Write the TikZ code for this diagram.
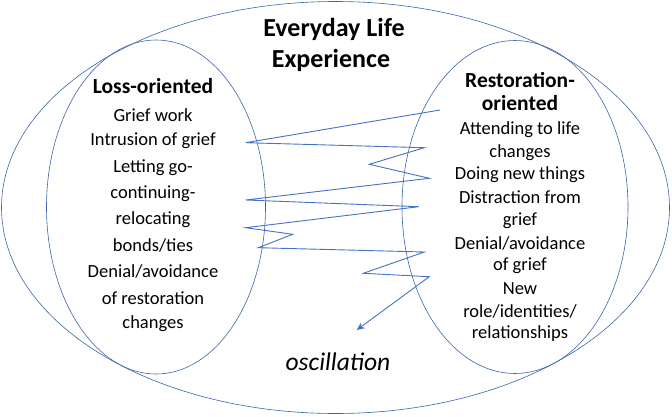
\documentclass[tikz,border=0pt]{standalone}
\usepackage{fontspec}
\setmainfont{Carlito}
\usetikzlibrary{shapes.geometric,arrows.meta}
\definecolor{ablue}{HTML}{4472C4}
\definecolor{eblue}{HTML}{3B64AD}
\begin{document}
\begin{tikzpicture}[x=1pt,y=-1pt,
  oval/.style={draw=eblue,line width=0.6pt,ellipse,inner sep=0pt},
  head/.style={font=\fontsize{21.5}{24}\selectfont\bfseries,inner sep=0pt,anchor=center},
  item/.style={font=\fontsize{18.5}{22}\selectfont,inner sep=0pt,anchor=center},
  title/.style={font=\fontsize{26}{30}\selectfont\bfseries,inner sep=0pt},
  osc/.style={draw=ablue,line width=0.9pt}]
\useasboundingbox (0,0) rectangle (672,416);
\node[oval,minimum width=668pt,minimum height=412pt] (outer) at (335.5,207.5) {};
\node[oval,minimum width=219pt,minimum height=334pt] (loss) at (156,207) {};
\node[oval,minimum width=226pt,minimum height=333pt] (rest) at (515,207) {};
% title
\node[title] (t1) at (334,29) {Everyday Life};
\node[title] (t2) at (331,60) {Experience};
% loss side
\node[head] (lh) at (153,86) {Loss-oriented};
\foreach \t [count=\i] in {Grief work,Intrusion of grief,Letting go-,continuing-,relocating,bonds/ties,Denial/avoidance,of restoration,changes}
  \node[item] (l\i) at (153,{115+(\i-1)*26.1}) {\t};
% restoration side
\node[head] (rh1) at (520,80) {Restoration-};
\node[head] (rh2) at (520,103) {oriented};
\foreach \t [count=\i] in {Attending to life,changes,Doing new things,Distraction from,grief,Denial/avoidance,of grief,New,role/identities/,relationships}
  \node[item] (r\i) at (520,{129.5+(\i-1)*22.7}) {\t};
% oscillation
\node[font=\fontsize{25.5}{30}\selectfont\itshape,inner sep=0pt] (osc) at (338,362) {oscillation};
% zigzag
\coordinate (z0) at (440,110);
\coordinate (z1) at (245.7,142.7);
\coordinate (z2) at (424.3,147.7);
\coordinate (z3) at (369.3,164.3);
\coordinate (z4) at (429.3,178.3);
\coordinate (z5) at (245.7,200);
\coordinate (z6) at (418.7,206.7);
\coordinate (z7) at (245.7,227.7);
\coordinate (z8) at (292.7,234.3);
\coordinate (z9) at (258.3,247.7);
\coordinate (z10) at (424.3,252);
\coordinate (z11) at (363.3,273.3);
\coordinate (z12) at (429.3,276.7);
\coordinate (zend) at (356.7,330);
\draw[osc,line join=miter,-{Stealth[length=8pt,width=7pt]}] (z0) -- (z1) -- (z2) -- (z3) -- (z4) -- (z5) -- (z6) -- (z7) -- (z8) -- (z9) -- (z10) -- (z11) -- (z12) -- (zend);
\end{tikzpicture}
\end{document}
